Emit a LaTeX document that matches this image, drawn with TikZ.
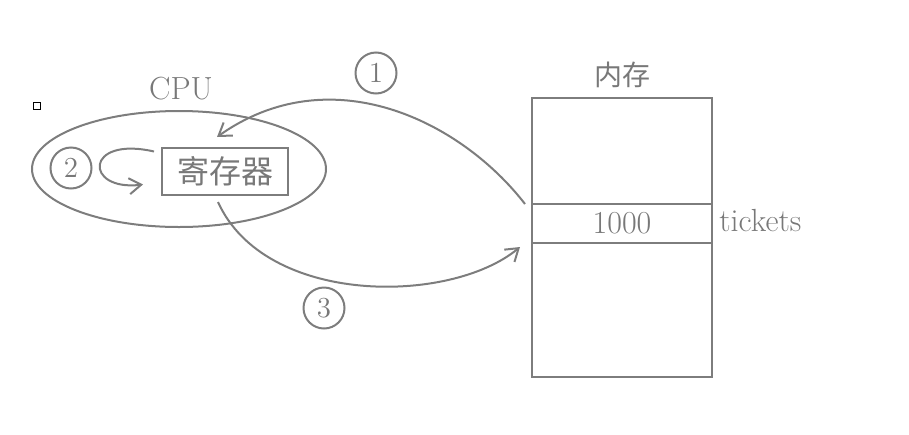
\documentclass[tikz,border=0pt]{standalone}
\usepackage{fontspec}
\newfontfamily\cjk{Noto Sans CJK SC}
\usetikzlibrary{arrows.meta,positioning,shapes.geometric}
\definecolor{linegray}{RGB}{125,125,125}
\definecolor{textgray}{RGB}{120,120,120}

\begin{document}
\begin{tikzpicture}[x=0.5pt, y=-0.5pt, font=\fontsize{16}{19}\selectfont, >={Straight Barb[length=6pt, width=8pt]}]
  \tikzset{cell/.style={draw=linegray, line width=1pt, outer sep=0pt, minimum width=90pt, inner sep=0pt, text=textgray},
    stepnum/.style={circle, draw=linegray, line width=1pt, minimum size=20.5pt, inner sep=0pt, text=textgray, font=\fontsize{14.5}{16}\selectfont},
    label/.style={text=textgray, inner sep=0pt},
    flow/.style={->, draw=linegray, line width=1pt}}
  \useasboundingbox (0,0) rectangle (909,434);
  % memory column
  \node[cell, minimum height=19.5pt] (tickets) at (622,223.5) {1000};
  \node[cell, minimum height=53pt, above=0pt of tickets] (memtop) {};
  \node[cell, minimum height=67pt, below=0pt of tickets] (membot) {};
  \node[label, font=\cjk\fontsize{14}{16}\selectfont] (memlabel) at (622,75) {内存};
  \node[label, anchor=west] (ticklabel) at (719,221) {tickets};
  % cpu and register
  \node[ellipse, draw=linegray, line width=1pt, minimum width=147pt, minimum height=58pt] (cpu) at (179,169) {};
  \node[label] (cpulabel) at (181,88.5) {CPU};
  \node[draw=linegray, line width=1pt, minimum width=63pt, minimum height=23.5pt, inner sep=0pt, text=textgray, font=\cjk\fontsize{16}{18}\selectfont] (reg) at (225,171.5) {寄存器};
  \node[draw=black, line width=0.6pt, minimum size=3.5pt, inner sep=0pt] (marker) at (37,106) {};
  % steps
  \node[stepnum] (one) at (376,73) {1};
  \node[stepnum] (two) at (71,168) {2};
  \node[stepnum] (three) at (324,308) {3};
  \draw[flow] ([xshift=-3.5pt]tickets.north west) .. controls +(-65,-84) and +(113,-80) .. ([xshift=-4pt, yshift=5pt]reg.north);
  \draw[flow] ([xshift=-3.5pt, yshift=10pt]reg.west) .. controls +(-70,-16) and +(-59,7) .. ([xshift=-9pt, yshift=-6.5pt]reg.west);
  \draw[flow] ([xshift=-3.5pt, yshift=-3pt]reg.south) .. controls +(47,104) and +(-70,58) .. ([xshift=-6pt, yshift=-2pt]tickets.south west);
\end{tikzpicture}
\end{document}
